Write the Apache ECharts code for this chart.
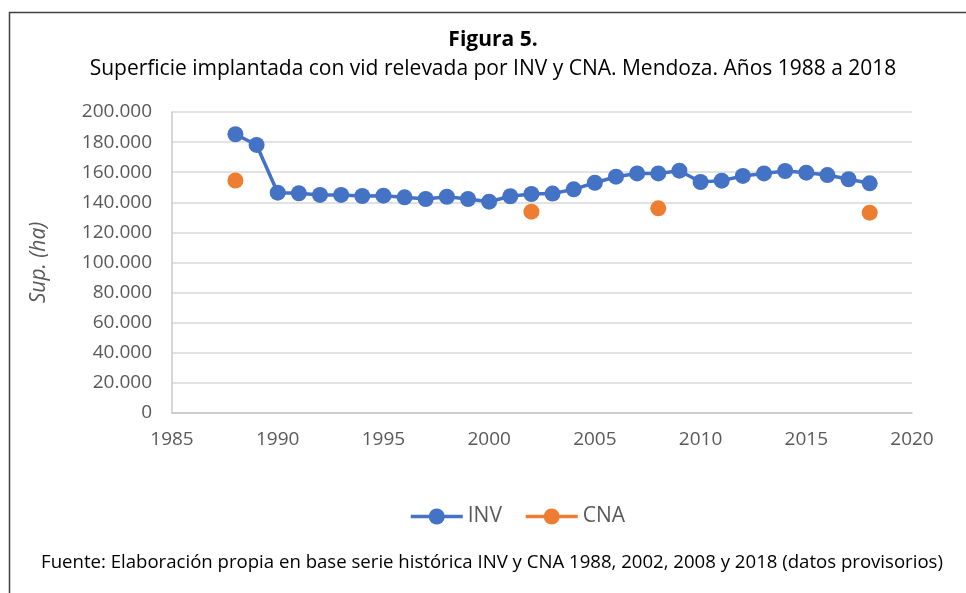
<!DOCTYPE html>
<html lang="es">
<head>
    <meta charset="UTF-8">
    <title>Figura 5</title>
    <style>
        html,body{margin:0;padding:0;background:#fff;}
        #mychart{
            width: 966px;
            height: 593px;
        }
    </style>
</head>
<body>
    <div id="mychart"></div>
    <script src="https://cdn.jsdelivr.net/npm/echarts@6/dist/echarts.min.js"></script>
    <script>
        // INV serie anual 1988-2018 (ha)
        var years=[1988,1989,1990,1991,1992,1993,1994,1995,1996,1997,1998,1999,2000,2001,2002,2003,
                   2004,2005,2006,2007,2008,2009,2010,2011,2012,2013,2014,2015,2016,2017,2018]
        var inv=[185200,178100,146400,146000,144900,144900,144200,144400,143300,142200,143700,142200,140400,144000,145500,145800,
                 148600,153000,157000,159200,159200,161000,153500,154400,157500,159200,160800,159700,158100,155300,152600]
        // CNA: censos 1988, 2002, 2008, 2018
        var cnaYears=[1988,2002,2008,2018]
        var cna=[154500,133800,136000,133100]
        var xTicks=[1985,2020,5]//min, max, intervalo
        var yTicks=[0,200000,20000]

        var font='"Open Sans", sans-serif'
        var grey='#595959'

        function miles(v){//separador de miles con punto
            if (v==0) return '0'
            return String(v).replace(/\B(?=(\d{3})+(?!\d))/g,'.')
        }

        var myChart=echarts.init(document.getElementById('mychart'))
        var option={
            animation:false,
            textStyle:{fontFamily:font},
            title:[
                {text:'Figura 5.',left:488,top:25,textAlign:'center',
                 textStyle:{fontSize:21,fontWeight:'bold',color:'#000',fontFamily:font}},
                {text:'Superficie implantada con vid relevada por INV y CNA. Mendoza. Años 1988 a 2018',left:488,top:54,textAlign:'center',
                 textStyle:{fontSize:21,fontWeight:'normal',color:'#000',fontFamily:font}},
                {text:'Fuente: Elaboración propia en base serie histórica INV y CNA 1988, 2002, 2008 y 2018 (datos provisorios)',left:487,top:548,textAlign:'center',
                 textStyle:{fontSize:18.6,fontWeight:'normal',color:'#000',fontFamily:font}}
            ],
            graphic:[
                {type:'rect',left:7,top:10,shape:{width:1100,height:1000},
                 style:{fill:'none',stroke:'#404040',lineWidth:1.5},silent:true}
            ],
            legend:{
                top:501,
                left:404,
                itemWidth:52,
                itemHeight:20,
                itemGap:22,
                textStyle:{fontSize:21,color:grey,fontFamily:font},
                data:[
                    {name:'INV',lineStyle:{color:'#4472C4',width:3.5,opacity:1}},
                    {name:'CNA',lineStyle:{color:'#ED7D31',width:3.5,opacity:1}}
                ]
            },
            grid:{left:172,right:54,top:112,bottom:180},
            xAxis:{
                type:'value',
                min:xTicks[0],
                max:xTicks[1],
                interval:xTicks[2],
                axisLine:{show:true,lineStyle:{color:'#c8c8c8',width:1.5}},
                axisTick:{show:false},
                splitLine:{show:false},
                axisLabel:{color:grey,fontSize:19,margin:17,fontFamily:font,formatter:(v)=>String(v)}
            },
            yAxis:{
                type:'value',
                min:yTicks[0],
                max:yTicks[1],
                interval:yTicks[2],
                name:'Sup. (ha)',
                nameLocation:'middle',
                nameRotate:90,
                nameGap:122,
                nameTextStyle:{fontSize:21,fontStyle:'italic',color:grey,fontFamily:font},
                axisLine:{show:true,lineStyle:{color:'#c8c8c8',width:1.5}},
                axisTick:{show:false},
                splitLine:{lineStyle:{color:'#d9d9d9',width:1.5}},
                axisLabel:{color:grey,fontSize:19,margin:20,formatter:miles,fontFamily:font}
            },
            series:[
                {
                    name:'INV',
                    type:'line',
                    symbol:'circle',
                    symbolSize:16,
                    color:'#4472C4',
                    lineStyle:{width:3.5,color:'#4472C4'},
                    itemStyle:{color:'#4472C4',borderWidth:0},
                    data:years.map((y,i)=>[y,inv[i]])
                },
                {
                    name:'CNA',
                    type:'line',
                    symbol:'circle',
                    symbolSize:16,
                    color:'#ED7D31',
                    lineStyle:{width:3.5,color:'#ED7D31',opacity:0},
                    itemStyle:{color:'#ED7D31',borderWidth:0},
                    data:cnaYears.map((y,i)=>[y,cna[i]])
                }
            ]
        }
        myChart.setOption(option)
    </script>
</body>
</html>
